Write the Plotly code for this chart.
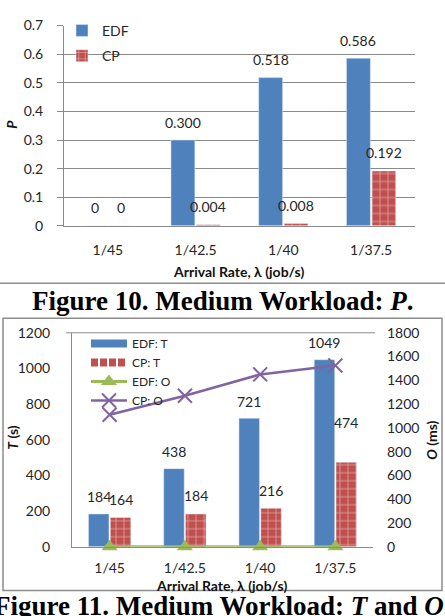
import plotly.graph_objects as go

# ---------------- data ----------------
categories = ["1/45", "1/42.5", "1/40", "1/37.5"]

p_edf = [0, 0.300, 0.518, 0.586]
p_cp = [0, 0.004, 0.008, 0.192]
p_edf_text = ["0", "0.300", "0.518", "0.586"]
p_cp_text = ["0", "0.004", "0.008", "0.192"]

t_edf = [184, 438, 721, 1049]
t_cp = [164, 184, 216, 474]
o_edf = [0, 0, 0, 0]
o_cp = [1110, 1270, 1450, 1525]

p_ticks = [0, 0.1, 0.2, 0.3, 0.4, 0.5, 0.6, 0.7]
p_tick_text = ["0", "0.1", "0.2", "0.3", "0.4", "0.5", "0.6", "0.7"]
t_ticks = [0, 200, 400, 600, 800, 1000, 1200]
o_ticks = [0, 200, 400, 600, 800, 1000, 1200, 1400, 1600, 1800]

# ---------------- style ----------------
W, H = 445, 616
BLUE = "#4F81BD"
RED = "#C0504D"
GREEN = "#9BBB59"
PURPLE = "#8064A2"
GRID = "#8a8a8a"
TXT = "#262626"
FONT = "Lato"
BARGAP = 0.42

# extra vertical offset of value labels (px), per point
t_cp_label_extra = [0, 0, 0, 22]


def px_x(p):
    return p / W


def px_y(p):
    return 1 - p / H


dom1_x = [px_x(64), px_x(415)]
dom1_y = [px_y(223), px_y(17)]
dom2_x = [px_x(72), px_x(373)]
dom2_y = [px_y(553), px_y(333)]

cp_pattern = dict(shape="+", fgcolor="white", size=8, solidity=0.18)

fig = go.Figure()

# chart 1
fig.add_trace(go.Bar(x=categories, y=p_edf, name="EDF", marker_color=BLUE,
                     xaxis="x", yaxis="y", legend="legend", legendgroup="a"))
fig.add_trace(go.Bar(x=categories, y=p_cp, name="CP", marker=dict(color=RED, pattern=cp_pattern),
                     xaxis="x", yaxis="y", legend="legend", legendgroup="b"))

# chart 2 (bars are shown in the legend through long-key entries below)
fig.add_trace(go.Bar(x=categories, y=t_edf, name="EDF: T", marker_color=BLUE,
                     xaxis="x2", yaxis="y2", showlegend=False))
fig.add_trace(go.Bar(x=categories, y=t_cp, name="CP: T", marker=dict(color=RED, pattern=cp_pattern),
                     xaxis="x2", yaxis="y2", showlegend=False))
# legend keys for the bar series (Excel style long rectangles)
fig.add_trace(go.Scatter(x=[None], y=[None], name="EDF: T", mode="lines",
                         line=dict(color=BLUE, width=8),
                         xaxis="x2", yaxis="y2", legend="legend2", legendgroup="c"))
fig.add_trace(go.Scatter(x=[None], y=[None], name="CP: T", mode="lines",
                         line=dict(color=RED, width=8, dash="7px,2px"),
                         xaxis="x2", yaxis="y2", legend="legend2", legendgroup="d"))
fig.add_trace(go.Scatter(x=categories, y=o_edf, name="EDF: O", mode="lines+markers",
                         line=dict(color=GREEN, width=3),
                         marker=dict(symbol="triangle-up", size=14, color=GREEN),
                         cliponaxis=False,
                         xaxis="x2", yaxis="y3", legend="legend2", legendgroup="e"))
fig.add_trace(go.Scatter(x=categories, y=o_cp, name="CP: O", mode="lines+markers",
                         line=dict(color=PURPLE, width=2.5),
                         marker=dict(symbol="x-thin", size=14, color=PURPLE,
                                     line=dict(color=PURPLE, width=2)),
                         cliponaxis=False,
                         xaxis="x2", yaxis="y3", legend="legend2", legendgroup="f"))

lab_font = dict(family=FONT, size=14, color=TXT)
annotations = []
# value labels chart 1
cat1 = (415 - 64) / 4
sh1 = (1 - BARGAP) * cat1 / 4
for c, v, t in zip(categories, p_edf, p_edf_text):
    annotations.append(dict(x=c, y=v, xref="x", yref="y", text=t, showarrow=False,
                            xshift=-sh1, yshift=18, yanchor="middle", xanchor="center",
                            font=lab_font))
for c, v, t in zip(categories, p_cp, p_cp_text):
    annotations.append(dict(x=c, y=v, xref="x", yref="y", text=t, showarrow=False,
                            xshift=sh1, yshift=18, yanchor="middle", xanchor="center",
                            font=lab_font))
# value labels chart 2
cat2 = (373 - 72) / 4
sh2 = (1 - BARGAP) * cat2 / 4
for c, v in zip(categories, t_edf):
    annotations.append(dict(x=c, y=v, xref="x2", yref="y2", text=str(v), showarrow=False,
                            xshift=-sh2, yshift=17, yanchor="middle", xanchor="center",
                            font=lab_font))
for c, v, e in zip(categories, t_cp, t_cp_label_extra):
    annotations.append(dict(x=c, y=v, xref="x2", yref="y2", text=str(v), showarrow=False,
                            xshift=sh2, yshift=18 + e, yanchor="middle", xanchor="center",
                            font=lab_font))

title_font = dict(family=FONT, size=14, color="#111")
cap_font = dict(family="Liberation Serif", size=27, color="#000")


def paper_text(x, y, text, font, angle=0):
    return dict(x=px_x(x), y=px_y(y), xref="paper", yref="paper", showarrow=False,
                xanchor="center", yanchor="middle", textangle=angle, text=text, font=font)


annotations += [
    paper_text(239, 270, "<b>Arrival Rate, λ (job/s)</b>", title_font),
    paper_text(12, 119, "<b><i>P</i></b>", title_font, -90),
    paper_text(222, 593, "<b>Arrival Rate, λ (job/s)</b>", title_font),
    paper_text(13, 441, "<b><i>T</i> (s)</b>", title_font, -90),
    paper_text(432, 444, "<b><i>O</i> (ms)</b>", title_font, -90),
    paper_text(222.5, 300, "<b>Figure 10. Medium Workload: <i>P</i>.</b>", cap_font),
    paper_text(222.5, 614, "<b>Figure 11. Medium Workload: <i>T</i> and <i>O</i>.</b>", cap_font),
]

shapes = [
    dict(type="line", xref="paper", yref="paper", x0=0, x1=1, y0=px_y(282), y1=px_y(282),
         line=dict(color="#8c8c8c", width=1.5)),
    dict(type="rect", xref="paper", yref="paper", x0=px_x(3), x1=px_x(442),
         y0=px_y(598), y1=px_y(318), line=dict(color="#8c8c8c", width=1.5)),
    dict(type="line", xref="paper", yref="y2 domain", x0=px_x(66), x1=px_x(375), y0=1, y1=1,
         line=dict(color=GRID, width=1)),
]

tickfont = dict(family=FONT, size=14, color=TXT)

fig.update_layout(
    width=W, height=H,
    margin=dict(l=0, r=0, t=0, b=0),
    paper_bgcolor="white", plot_bgcolor="rgba(0,0,0,0)",
    barmode="group", bargap=BARGAP, bargroupgap=0.06,
    showlegend=True,
    legend=dict(x=px_x(62), y=px_y(6), xanchor="left", yanchor="top",
                font=dict(family=FONT, size=14, color=TXT), bgcolor="rgba(0,0,0,0)",
                tracegroupgap=4),
    legend2=dict(x=px_x(86), y=px_y(329), xanchor="left", yanchor="top",
                 font=dict(family=FONT, size=12, color=TXT), bgcolor="rgba(0,0,0,0)",
                 tracegroupgap=0, itemwidth=36),
    xaxis=dict(domain=dom1_x, anchor="y", type="category", categoryorder="array",
               categoryarray=categories, showline=True, linecolor=GRID, linewidth=1,
               ticks="", tickfont=tickfont, ticklabelstandoff=11, showgrid=False),
    yaxis=dict(domain=dom1_y, anchor="x", range=[0, 0.7], tickvals=p_ticks, ticktext=p_tick_text,
               showgrid=True, gridcolor=GRID, gridwidth=1, showline=True, linecolor=GRID,
               ticks="outside", ticklen=6, tickcolor=GRID, tickfont=tickfont,
               ticklabelstandoff=11, zeroline=False),
    xaxis2=dict(domain=dom2_x, anchor="y2", type="category", categoryorder="array",
                categoryarray=categories, showline=True, linecolor=GRID, linewidth=1,
                ticks="", tickfont=tickfont, ticklabelstandoff=8, showgrid=False),
    yaxis2=dict(domain=dom2_y, anchor="x2", range=[0, 1200], tickvals=t_ticks,
                showgrid=False, showline=True, linecolor=GRID, ticks="",
                tickfont=tickfont, ticklabelstandoff=18, zeroline=False),
    yaxis3=dict(overlaying="y2", anchor="x2", side="right", range=[0, 1800], tickvals=o_ticks,
                showgrid=False, showline=False, ticks="", tickfont=tickfont,
                ticklabelstandoff=13, zeroline=False),
    annotations=annotations,
    shapes=shapes,
)

fig.write_html("out.html")
